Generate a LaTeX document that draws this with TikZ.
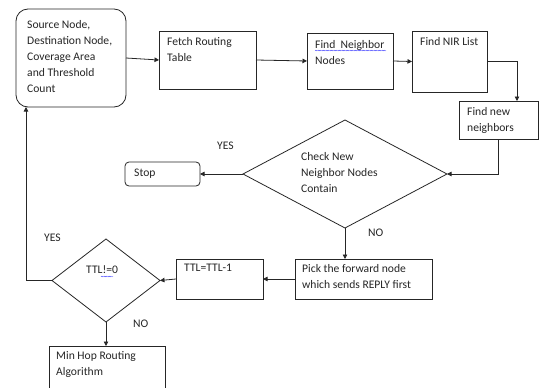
\documentclass[tikz,border=0pt]{standalone}
\usepackage{fontspec}
\setmainfont{Carlito}
\usetikzlibrary{arrows.meta,shapes.geometric,decorations.pathmorphing}

\tikzset{
  flowline/.style={draw=black!85, line width=0.8pt},
  arrowline/.style={flowline, -{Triangle[length=4.5pt,width=4.5pt]}},
  stepbox/.style={draw=black!85, line width=0.8pt, rectangle, inner sep=0pt, outer sep=0pt},
  roundbox/.style={stepbox, rounded corners=#1},
  decision/.style={draw=black!85, line width=0.8pt, diamond, inner sep=0pt, outer sep=0pt},
  boxtext/.style={anchor=north west, inner sep=0pt, align=left,
    font=\fontsize{11.6}{16}\selectfont, text=black!85},
  spellmark/.style={draw=blue!70, line width=0.35pt,
    decorate, decoration={snake, amplitude=0.4pt, segment length=1.6pt}}
}

\begin{document}
\begin{tikzpicture}[x=1pt,y=-1pt]
  \clip (0,0) rectangle (539,388);
  \fill[white] (0,0) rectangle (539,388);

  % boxes
  \node[roundbox=12pt, minimum width=110pt, minimum height=98pt] (src) at (71,58) {};
  \node[stepbox, minimum width=97pt, minimum height=58pt] (fetch) at (207.5,60) {};
  \node[stepbox, minimum width=86pt, minimum height=56pt] (nbr) at (350,61) {};
  \node[stepbox, minimum width=75pt, minimum height=61pt] (nir) at (449.5,61.5) {};
  \node[stepbox, minimum width=79pt, minimum height=38pt] (nn) at (498.5,120) {};
  \node[decision, minimum width=204pt, minimum height=108pt] (chk) at (345,174) {};
  \node[roundbox=4pt, minimum width=75pt, minimum height=24pt] (stop) at (162.5,174) {};
  \node[stepbox, minimum width=137pt, minimum height=40pt] (pick) at (363.5,279) {};
  \node[stepbox, minimum width=87pt, minimum height=40pt] (ttl) at (219.5,279) {};
  \node[decision, minimum width=108pt, minimum height=83pt] (ttlq) at (106,280.5) {};
  \node[stepbox, minimum width=116pt, minimum height=60pt] (minhop) at (107,376) {};

  % box texts
  \node[boxtext] (srctext) at (27,20) {Source Node,\\Destination Node,\\Coverage Area\\and Threshold\\Count};
  \node[boxtext] (fetchtext) at (167,37) {Fetch Routing\\Table};
  \node[boxtext] (nbrtext) at (315,40) {Find\ \ Neighbor\\Nodes};
  \node[boxtext] (nirtext) at (420,37) {Find NIR List};
  \node[boxtext] (nntext) at (467,107) {Find new\\neighbors};
  \node[boxtext] (chktext) at (301,152) {Check New\\Neighbor Nodes\\Contain};
  \node[boxtext] (stoptext) at (134,169) {Stop};
  \node[boxtext] (picktext) at (302,264) {Pick the forward node\\which sends REPLY first};
  \node[boxtext] (ttltext) at (184,264) {TTL=TTL-1};
  \node[boxtext] (ttlqtext) at (86,265) {TTL!=0};
  \node[boxtext] (minhoptext) at (56,351) {Min Hop Routing\\Algorithm};

  % spell-check underlines
  \draw[spellmark] (315,50.5) -- (386,50.5);
  \draw[spellmark] (101,276.5) -- (113,276.5);

  % branch labels
  \node[boxtext] (yes1) at (217,142) {YES};
  \node[boxtext] (no1) at (368,229) {NO};
  \node[boxtext] (yes2) at (44,234) {YES};
  \node[boxtext] (no2) at (133,320) {NO};

  % connectors
  \draw[arrowline] (src.east) -- (fetch.west);
  \draw[arrowline] (fetch.east) -- (nbr.west);
  \draw[arrowline] (nbr.east) -- (nir.west);
  \draw[arrowline] (nir.east) -| ([xshift=18.5pt]nn.north);
  \draw[arrowline] (nn.south) |- (chk.east);
  \draw[arrowline] (chk.west) -- (stop.east);
  \draw[arrowline] (chk.south) -- (chk.south |- pick.north);
  \draw[arrowline] (pick.west) -- (ttl.east);
  \draw[arrowline] (ttl.west) -- (ttlq.east);
  \draw[arrowline] (ttlq.west) -| ([xshift=-45pt]src.south);
  \draw[arrowline] (ttlq.south) -- (ttlq.south |- minhop.north);
\end{tikzpicture}
\end{document}
